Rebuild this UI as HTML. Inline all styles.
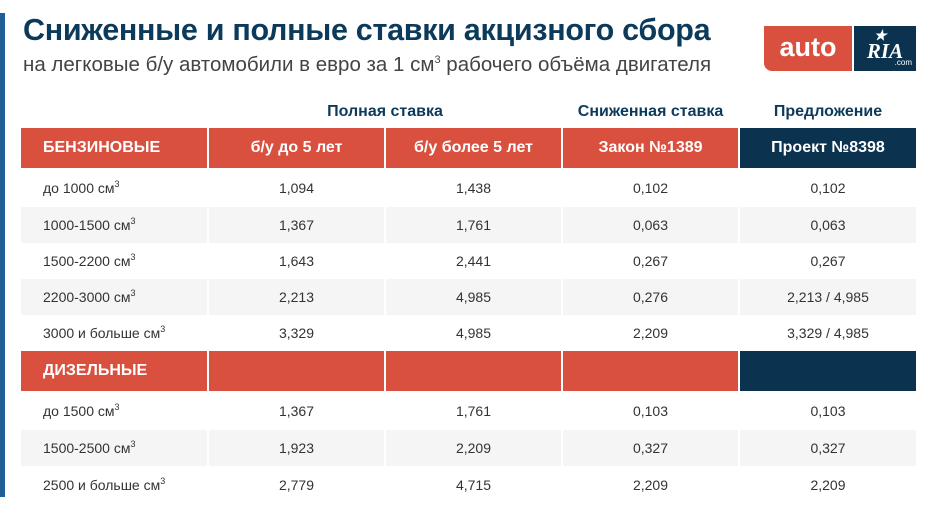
<!DOCTYPE html>
<html><head><meta charset="utf-8"><style>
body{margin:0;width:940px;height:511px;background:#fff;position:relative;overflow:hidden;font-family:"Liberation Sans",sans-serif;}
.bar{position:absolute;left:0;top:13px;width:5px;height:484px;background:#1f5f95;}
.t{position:absolute;left:23px;top:13px;font-size:30.5px;font-weight:bold;color:#0c3a5a;letter-spacing:-0.3px;white-space:nowrap}
.s{position:absolute;left:23px;top:53px;font-size:20.5px;color:#444;white-space:nowrap}
.s sup{font-size:11px;vertical-align:8px}
.h{position:absolute;top:103px;font-size:16px;font-weight:bold;color:#0c3a5a;text-align:center}
.c{position:absolute;display:flex;align-items:center;justify-content:center;font-size:14px;color:#333}
.r{background:#d9503f;color:#fff;font-weight:bold;font-size:16px}
.n{background:#0b3350;color:#fff;font-weight:bold;font-size:16px}
.g{background:#f5f5f5}
.l{justify-content:flex-start;padding-left:22px;box-sizing:border-box}
sup{font-size:9px;vertical-align:6px;line-height:0}
</style></head><body>
<div class="bar"></div>
<div class="t">Сниженные и полные ставки акцизного сбора</div>
<div class="s">на легковые б/у автомобили в евро за 1 см<sup>3</sup> рабочего объёма двигателя</div>
<div style="position:absolute;left:764px;top:26px;width:88px;height:45px;background:#d9503f;border-bottom-left-radius:8px;color:#fff;font-size:27px;font-weight:bold;text-align:center;line-height:42px">auto</div>
<div style="position:absolute;left:854px;top:26px;width:62px;height:45px;background:#0b3350;color:#fff;font-family:'Liberation Serif',serif;font-weight:bold;font-size:21px;text-align:center;line-height:50px;font-style:italic">RIA<span style="position:absolute;left:20px;top:-14px;font-size:14px">★</span><span style="position:absolute;right:4px;top:12px;font-size:8px;font-family:'Liberation Sans';font-style:normal;font-weight:normal">.com</span></div>
<div class="h" style="left:209px;width:352px">Полная ставка</div>
<div class="h" style="left:563px;width:175px">Сниженная ставка</div>
<div class="h" style="left:740px;width:176px">Предложение</div>
<div id="tb"></div>
<script>
var X=[[21,186],[209,175],[386,175],[563,175],[740,176]];
var rows=[
[128,40,'h',['БЕНЗИНОВЫЕ','б/у до 5 лет','б/у более 5 лет','Закон №1389','Проект №8398']],
[168,39,'w',['до 1000 см<sup>3</sup>','1,094','1,438','0,102','0,102']],
[207,36,'g',['1000-1500 см<sup>3</sup>','1,367','1,761','0,063','0,063']],
[243,36,'w',['1500-2200 см<sup>3</sup>','1,643','2,441','0,267','0,267']],
[279,36,'g',['2200-3000 см<sup>3</sup>','2,213','4,985','0,276','2,213 / 4,985']],
[315,36,'w',['3000 и больше см<sup>3</sup>','3,329','4,985','2,209','3,329 / 4,985']],
[351,40,'h',['ДИЗЕЛЬНЫЕ','','','','']],
[391,39,'w',['до 1500 см<sup>3</sup>','1,367','1,761','0,103','0,103']],
[430,36,'g',['1500-2500 см<sup>3</sup>','1,923','2,209','0,327','0,327']],
[466,37,'w',['2500 и больше см<sup>3</sup>','2,779','4,715','2,209','2,209']]];
var h='';
rows.forEach(function(r){for(var i=0;i<5;i++){var cls='c';
if(r[2]=='h')cls+=(i==4?' n':' r');else if(r[2]=='g')cls+=' g';
if(i==0)cls+=' l';
h+='<div class="'+cls+'" style="left:'+X[i][0]+'px;width:'+X[i][1]+'px;top:'+r[0]+'px;height:'+r[1]+'px"><span>'+r[3][i]+'</span></div>';}});
document.getElementById('tb').innerHTML=h;
</script>
</body></html>
